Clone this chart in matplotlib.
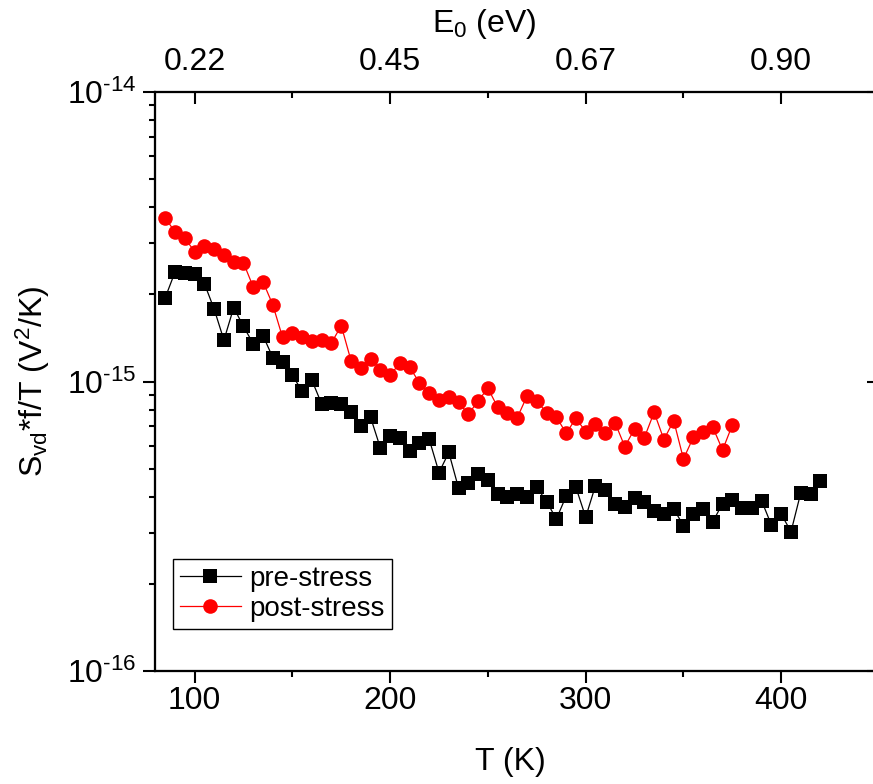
import math
import matplotlib
matplotlib.use("Agg")
import matplotlib.pyplot as plt
from matplotlib.ticker import FixedLocator, MultipleLocator, LogLocator, NullFormatter, FuncFormatter

plt.rcParams["font.family"] = ["Liberation Sans", "DejaVu Sans"]
plt.rcParams["mathtext.fontset"] = "custom"
plt.rcParams["mathtext.rm"] = "Liberation Sans"
plt.rcParams["mathtext.it"] = "Liberation Sans:italic"
plt.rcParams["mathtext.default"] = "regular"

UNIT = 1e-16  # values below are in units of 1e-16 V^2/K

T_PRE = [85, 90, 95, 100, 105, 110, 115, 120, 125, 130, 135, 140, 145, 150, 155, 160,
         165, 170, 175, 180, 185, 190, 195, 200, 205, 210, 215, 220, 225, 230, 235, 240,
         245, 250, 255, 260, 265, 270, 275, 280, 285, 290, 295, 300, 305, 310, 315, 320,
         325, 330, 335, 340, 345, 350, 355, 360, 365, 370, 375, 380, 385, 390, 395, 400,
         405, 410, 415, 420]
S_PRE = [19.5, 23.9, 23.8, 23.6, 21.8, 17.8, 13.9, 18.0, 15.5, 13.5, 14.4, 12.1, 11.7, 10.5, 9.27, 10.1,
         8.36, 8.41, 8.36, 7.86, 7.04, 7.52, 5.90, 6.48, 6.40, 5.77, 6.15, 6.31, 4.85, 5.69, 4.28, 4.45,
         4.79, 4.57, 4.09, 3.98, 4.09, 3.98, 4.31, 3.85, 3.35, 4.02, 4.31, 3.40, 4.37, 4.22, 3.77, 3.70,
         3.97, 3.85, 3.58, 3.48, 3.63, 3.18, 3.48, 3.62, 3.28, 3.79, 3.90, 3.67, 3.67, 3.87, 3.19, 3.48,
         3.03, 4.13, 4.09, 4.54]

T_POST = [85, 90, 95, 100, 105, 110, 115, 120, 125, 130, 135, 140, 145, 150, 155, 160,
          165, 170, 175, 180, 185, 190, 195, 200, 205, 210, 215, 220, 225, 230, 235, 240,
          245, 250, 255, 260, 265, 270, 275, 280, 285, 290, 295, 300, 305, 310, 315, 320,
          325, 330, 335, 340, 345, 350, 355, 360, 365, 370, 375]
S_POST = [36.8, 32.8, 31.3, 28.1, 29.4, 28.7, 27.3, 25.8, 25.7, 21.2, 22.1, 18.4, 14.2, 14.7, 14.2, 13.8,
          13.9, 13.6, 15.6, 11.8, 11.1, 12.0, 11.0, 10.5, 11.6, 11.2, 9.9, 9.1, 8.63, 8.82, 8.48, 7.70,
          8.58, 9.48, 8.15, 7.76, 7.50, 8.91, 8.58, 7.80, 7.56, 6.62, 7.47, 6.71, 7.13, 6.65, 7.21, 5.96,
          6.86, 6.40, 7.83, 6.30, 7.33, 5.40, 6.41, 6.71, 6.95, 5.80, 7.08]

# top axis: E0 labels placed at T = 100, 200, 300, 400
E0_TICKS_T = [100, 200, 300, 400]
E0_LABELS = ["0.22", "0.45", "0.67", "0.90"]

XLIM = (80, 450)
YLIM = (1e-16, 1e-14)
FS = 23


def pow10_label(v, pos):
    # Origin style: plain hyphen in the exponent
    return "10$^{\u2010%d}$" % round(-math.log10(v))


def main():
    fig = plt.figure(figsize=(8.73, 7.84), dpi=100)
    ax = fig.add_axes([0.1781, 0.1441, 0.8288, 0.7385])

    ax.plot(T_PRE, [v * UNIT for v in S_PRE], "-s", color="black", lw=0.9,
            ms=9.5, mec="black", mew=0, label="pre-stress")
    ax.plot(T_POST, [v * UNIT for v in S_POST], "-o", color="red", lw=0.9,
            ms=10.5, mec="red", mew=0, label="post-stress")

    ax.set_yscale("log")
    ax.set_xlim(XLIM)
    ax.set_ylim(YLIM)

    ax.xaxis.set_major_locator(MultipleLocator(100))
    ax.xaxis.set_minor_locator(MultipleLocator(50))
    ax.yaxis.set_major_locator(LogLocator(base=10))
    ax.yaxis.set_major_formatter(FuncFormatter(pow10_label))
    ax.yaxis.set_minor_locator(LogLocator(base=10, subs=range(2, 10)))
    ax.yaxis.set_minor_formatter(NullFormatter())

    ax.tick_params(axis="x", which="both", direction="out", top=False, width=1.5, labelsize=FS, pad=2)
    ax.tick_params(axis="y", which="both", direction="out", right=False, width=1.5, labelsize=FS, pad=5)
    ax.tick_params(which="major", length=8.5)
    ax.tick_params(which="minor", length=4.5)
    for sp in ax.spines.values():
        sp.set_linewidth(1.5)

    ax.set_xlabel("T (K)", fontsize=FS)
    ax.xaxis.set_label_coords(0.491, -0.132)
    ax.set_ylabel("S$_{vd}$*f/T (V$^{2}$/K)", fontsize=FS)
    ax.yaxis.set_label_coords(-0.143, 0.5)

    # top axis (E0)
    ax2 = ax.twiny()
    ax2.set_xlim(XLIM)
    ax2.xaxis.set_major_locator(FixedLocator(E0_TICKS_T))
    ax2.set_xticklabels(E0_LABELS)
    ax2.xaxis.set_minor_locator(MultipleLocator(50))
    ax2.tick_params(axis="x", which="both", direction="in", width=1.5, labelsize=FS, pad=11)
    ax2.tick_params(which="major", length=8.5)
    ax2.tick_params(which="minor", length=4.5)
    ax2.set_xlabel("E$_0$ (eV)", fontsize=FS)
    ax2.xaxis.set_label_coords(0.454, 1.104)
    for sp in ax2.spines.values():
        sp.set_linewidth(1.5)

    # right axis: inward ticks, no labels
    ax3 = ax.twinx()
    ax3.set_yscale("log")
    ax3.set_ylim(YLIM)
    ax3.yaxis.set_minor_locator(LogLocator(base=10, subs=range(2, 10)))
    ax3.yaxis.set_minor_formatter(NullFormatter())
    ax3.tick_params(axis="y", which="both", direction="in", width=1.5, labelright=False)
    ax3.tick_params(which="major", length=8.5)
    ax3.tick_params(which="minor", length=4.5)
    for sp in ax3.spines.values():
        sp.set_linewidth(1.5)

    leg = ax.legend(loc="lower left", bbox_to_anchor=(0.024, 0.0725), fontsize=20,
                    frameon=True, fancybox=False, edgecolor="black", framealpha=1,
                    borderpad=0.25, handlelength=2.2, handletextpad=0.3,
                    labelspacing=0.15, borderaxespad=0)
    leg.get_frame().set_linewidth(1.0)

    fig.savefig("out.png", dpi=100)
    plt.close(fig)


if __name__ == "__main__":
    main()
